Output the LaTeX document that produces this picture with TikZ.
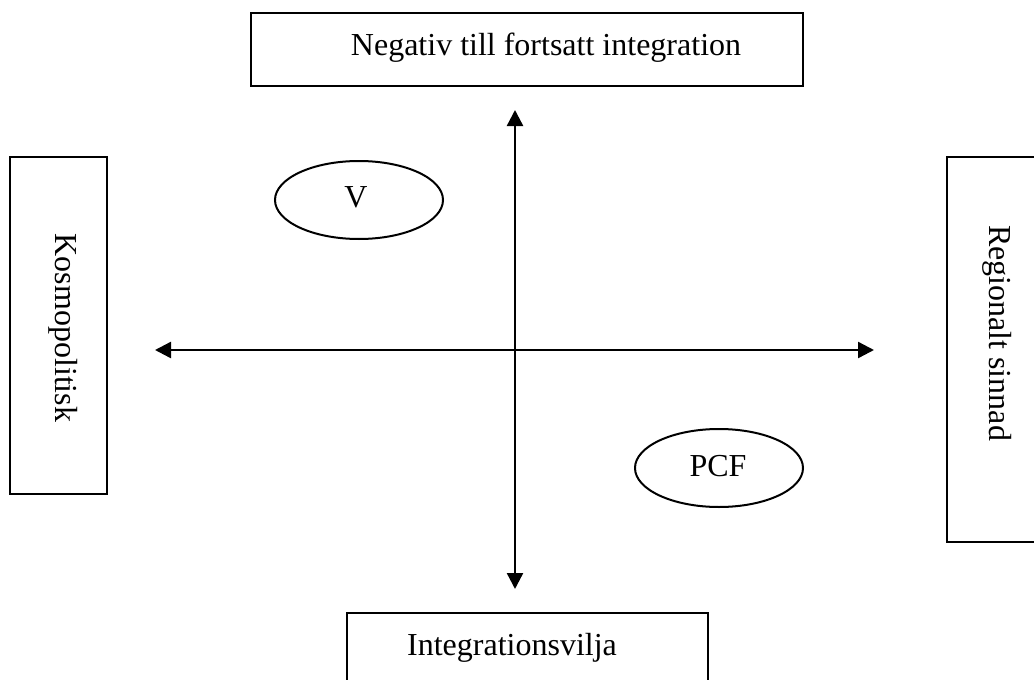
\documentclass[tikz,border=0pt]{standalone}
\usepackage{fontspec}
\setmainfont{Liberation Serif}
\usetikzlibrary{arrows.meta,shapes.geometric}
\begin{document}
\begin{tikzpicture}[x=1pt,y=-1pt,
  box/.style={draw,line width=2.4pt,rectangle,inner sep=0pt},
  oval/.style={draw,line width=2pt,ellipse,inner sep=0pt},
  lbl/.style={font=\fontsize{32}{38}\selectfont,inner sep=0pt},
  axis/.style={line width=2.4pt,{Triangle[length=16pt,width=16pt]}-{Triangle[length=16pt,width=16pt]}}]
\useasboundingbox (0,0) rectangle (1034,680);
% boxes
\node[box,minimum width=552,minimum height=73] (top) at (527,49.5) {};
\node[lbl,anchor=base] (toptxt) at (546,55) {Negativ till fortsatt integration};
\node[box,minimum width=97,minimum height=337] (left) at (58.5,325.5) {};
\node[lbl,rotate=-90] (lefttxt) at (63,328) {Kosmopolitisk};
\node[box,minimum width=100,minimum height=385] (right) at (997,349.5) {};
\node[lbl,rotate=-90] (righttxt) at (997,333) {Regionalt sinnad};
\node[box,minimum width=361,minimum height=90] (bottom) at (527.5,658) {};
\node[lbl,anchor=base] (bottxt) at (512,655) {Integrationsvilja};
% ellipses
\node[oval,minimum width=168,minimum height=78] (V) at (359,200) {};
\node[lbl] (Vtxt) at (356,197) {V};
\node[oval,minimum width=168,minimum height=78] (PCF) at (719,468) {};
\node[lbl] (PCFtxt) at (718,466) {PCF};
% axes
\coordinate (n) at (515,110);
\coordinate (s) at (515,589);
\coordinate (w) at (155,350);
\coordinate (e) at (874,350);
\draw[axis] (n) -- (s);
\draw[axis] (w) -- (e);
\end{tikzpicture}
\end{document}
